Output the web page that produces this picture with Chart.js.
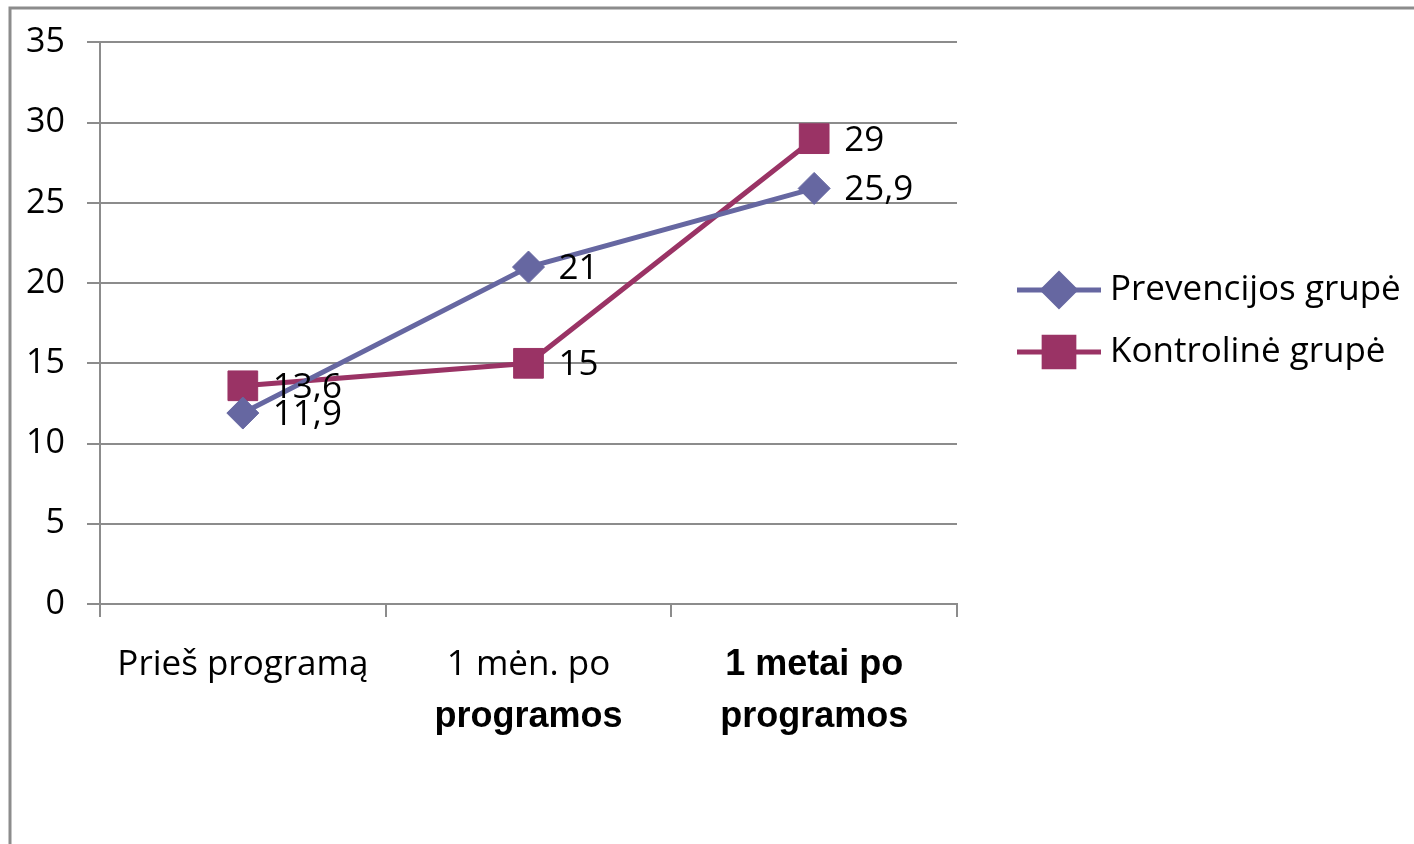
<!DOCTYPE html>
<html>
<head>
<meta charset="utf-8">
<script src="https://cdn.jsdelivr.net/npm/chart.js@4"></script>
<style>
  body { margin: 0; background: #fff; }
  canvas { display: block; }
</style>
</head>
<body>
<canvas id="grafikas" width="1414" height="844"></canvas>
<script>
// laikotarpiai ir grupių rodikliai
var laikotarpiai = ['Prieš programą', '1 mėn. po programos', '1 metai po programos'];
var eilutes = [['Prieš programą'], ['1 mėn. po', 'programos'], ['1 metai po', 'programos']];
var prevencijos = [11.9, 21, 25.9];
var kontroline = [13.6, 15, 29];
var grupes = ['Prevencijos grupė', 'Kontrolinė grupė'];

var melyna = '#6667a1';
var bordo = '#9a3365';
var pilka = '#8c8c8c';
var sriftas = "'Open Sans', 'DejaVu Sans', sans-serif";

// kurios x ašies eilutės rašomos pusjuodžiu
var pusjuodis = [[false], [false, true], [true, true]];

var remelis = {
    id: 'remelis',
    beforeDraw: function(chart) {
        var ctx = chart.ctx;
        ctx.save();
        ctx.fillStyle = '#fff';
        ctx.fillRect(0, 0, chart.width, chart.height);
        ctx.strokeStyle = pilka;
        ctx.lineWidth = 3;
        ctx.strokeRect(10, 8, chart.width + 20, chart.height + 20);
        ctx.restore();
    }
};

var reiksmes = {
    id: 'reiksmes',
    afterDatasetsDraw: function(chart) {
        var ctx = chart.ctx;
        ctx.save();
        ctx.font = '35px ' + sriftas;
        ctx.fillStyle = '#000';
        ctx.textAlign = 'left';
        ctx.textBaseline = 'middle';
        chart.data.datasets.forEach(function(ds, d) {
            var meta = chart.getDatasetMeta(d);
            meta.data.forEach(function(p, i) {
                var txt = String(ds.data[i]).replace('.', ',');
                ctx.fillText(txt, p.x + 30, p.y + 2);
            });
        });
        ctx.restore();
    }
};

var asiesTekstai = {
    id: 'asiesTekstai',
    afterDraw: function(chart) {
        var ctx = chart.ctx;
        var x = chart.scales.x;
        ctx.save();
        ctx.fillStyle = '#000';
        ctx.textAlign = 'center';
        ctx.textBaseline = 'middle';
        eilutes.forEach(function(eil, i) {
            var cx = x.getPixelForValue(i);
            eil.forEach(function(t, j) {
                if (pusjuodis[i][j]) {
                    ctx.font = "bold 36px 'Liberation Sans', Arial, sans-serif";
                } else {
                    ctx.font = '35px ' + sriftas;
                }
                ctx.fillText(t, cx, 665 + j * 52);
            });
        });
        ctx.restore();
    }
};

var legenda = {
    id: 'legenda',
    afterDraw: function(chart) {
        var ctx = chart.ctx;
        ctx.save();
        chart.data.datasets.forEach(function(ds, d) {
            var y = 290 + d * 62;
            ctx.strokeStyle = ds.borderColor;
            ctx.lineWidth = 5;
            ctx.beginPath();
            ctx.moveTo(1017, y);
            ctx.lineTo(1101, y);
            ctx.stroke();
            ctx.fillStyle = ds.pointBackgroundColor;
            ctx.strokeStyle = ds.pointBorderColor;
            Chart.helpers.drawPoint(ctx, {
                pointStyle: ds.pointStyle,
                radius: ds.pointRadius,
                borderWidth: 1,
                rotation: 0
            }, 1059, y);
            ctx.fillStyle = '#000';
            ctx.font = '35px ' + sriftas;
            ctx.textAlign = 'left';
            ctx.textBaseline = 'middle';
            ctx.fillText(ds.label, 1110, y);
        });
        ctx.restore();
    }
};

new Chart(document.getElementById('grafikas'), {
    type: 'line',
    data: {
        labels: laikotarpiai,
        datasets: [{
            label: grupes[0],
            data: prevencijos,
            borderColor: melyna,
            borderWidth: 5,
            pointStyle: 'rectRot',
            pointRadius: 16,
            pointBackgroundColor: melyna,
            pointBorderColor: melyna,
            pointBorderWidth: 1,
            tension: 0
        }, {
            label: grupes[1],
            data: kontroline,
            borderColor: bordo,
            borderWidth: 5,
            pointStyle: 'rect',
            pointRadius: 21,
            pointBackgroundColor: bordo,
            pointBorderColor: bordo,
            pointBorderWidth: 1,
            tension: 0
        }]
    },
    options: {
        responsive: false,
        animation: false,
        layout: { padding: { top: 38, right: 457, left: 0, bottom: 0 } },
        plugins: {
            legend: { display: false },
            tooltip: { enabled: false }
        },
        scales: {
            x: {
                type: 'category',
                offset: true,
                grid: {
                    offset: true,
                    drawOnChartArea: false,
                    drawTicks: true,
                    tickLength: 13,
                    color: pilka,
                    lineWidth: 2
                },
                border: { color: pilka, width: 2 },
                ticks: { display: false },
                afterFit: function(s) { s.height = 240; }
            },
            y: {
                min: 0,
                max: 35,
                ticks: {
                    stepSize: 5,
                    color: '#000',
                    padding: 22,
                    font: { family: sriftas, size: 34 }
                },
                grid: {
                    color: pilka,
                    lineWidth: 2,
                    tickLength: 13
                },
                border: { color: pilka, width: 2 },
                afterFit: function(s) { s.width = 100; }
            }
        }
    },
    plugins: [remelis, reiksmes, asiesTekstai, legenda]
});
</script>
</body>
</html>
